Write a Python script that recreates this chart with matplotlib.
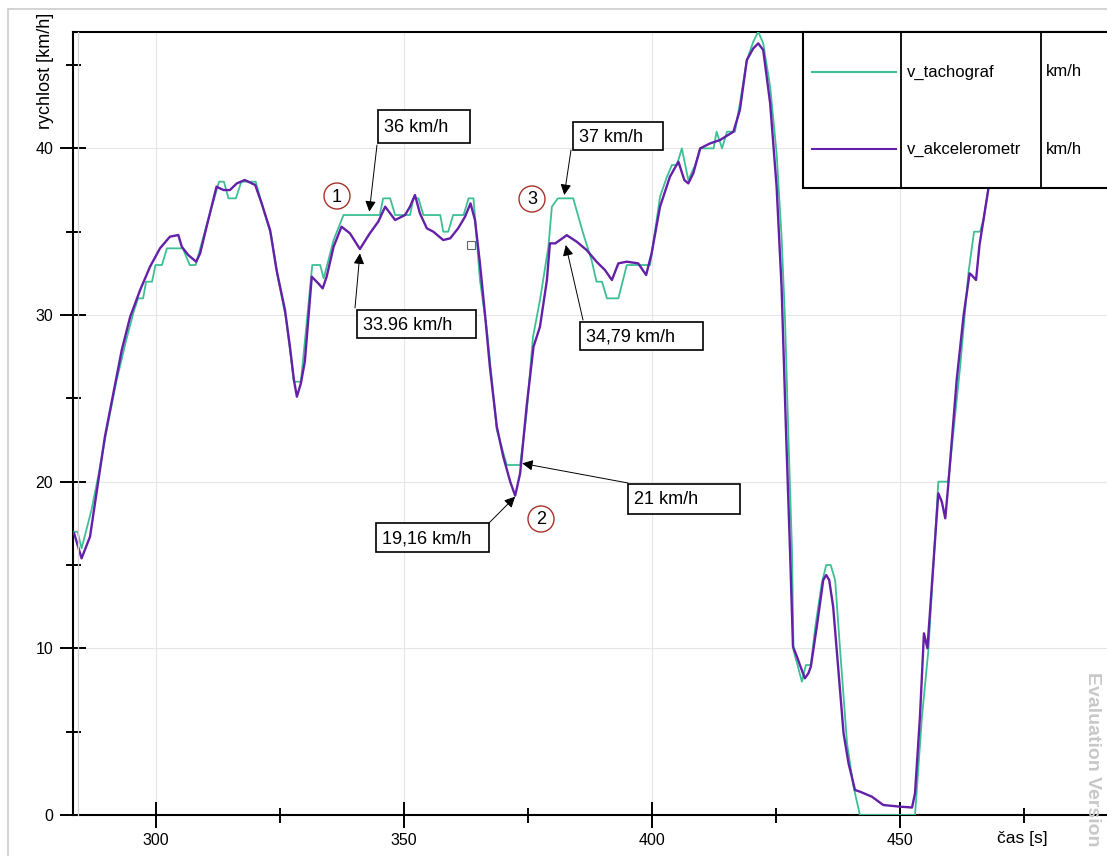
import matplotlib
matplotlib.use('Agg')
import matplotlib.pyplot as plt
from matplotlib.patches import Rectangle, Ellipse
from matplotlib.lines import Line2D

plt.rcParams['font.family'] = ['Liberation Sans', 'DejaVu Sans']

# #### DATA ####
t_tacho = [283.5, 284.2, 285.0, 287.0, 288.4, 290.0, 292.0, 294.0, 295.5, 296.4, 297.4, 298.0, 299.2,
           299.9, 301.2, 302.2, 305.4, 306.8, 308.0, 310.3, 312.7, 313.7, 314.6, 316.1, 317.2, 320.1,
           321.5, 323.2, 324.6, 326.2, 327.8, 329.2, 330.2, 331.5, 333.1, 333.8, 335.8, 337.8, 345.1,
           345.8, 347.2, 348.2, 351.2, 351.9, 352.9, 353.9, 357.3, 357.9, 358.9, 359.9, 362.0, 363.0,
           364.0, 365.3, 366.7, 367.7, 368.7, 370.7, 373.4, 374.7, 376.0, 377.4, 379.1, 379.8, 381.0,
           384.1, 386.1, 387.8, 388.8, 389.9, 390.9, 393.2, 394.9, 399.6, 401.6, 403.0, 404.0, 405.0,
           406.0, 407.3, 408.7, 409.7, 412.4, 413.0, 414.1, 415.1, 416.7, 417.7, 419.1, 420.4, 421.4,
           422.4, 423.8, 425.1, 426.1, 426.8, 427.5, 428.2, 428.5, 430.2, 431.0, 432.0, 432.9, 434.2,
           435.1, 436.0, 436.9, 437.9, 439.3, 440.6, 441.9, 453.0, 454.4, 455.7, 457.7, 459.7, 462.1,
           463.8, 464.9, 466.1, 466.8, 467.8, 469.0]
v_tacho = [17.0, 17.0, 16.0, 18.3, 20.4, 23.0, 26.0, 28.5, 30.2, 31.0, 31.0, 32.0, 32.0,
           33.0, 33.0, 34.0, 34.0, 33.0, 33.0, 35.5, 38.0, 38.0, 37.0, 37.0, 38.0, 38.0,
           36.5, 34.8, 32.2, 29.8, 26.0, 26.0, 29.0, 33.0, 33.0, 32.2, 34.5, 36.0, 36.0,
           37.0, 37.0, 36.0, 36.0, 37.0, 37.0, 36.0, 36.0, 35.0, 35.0, 36.0, 36.0, 37.0,
           37.0, 32.1, 29.1, 26.1, 23.1, 21.0, 21.0, 24.1, 28.7, 30.9, 34.1, 36.5, 37.0,
           37.0, 34.9, 33.3, 32.0, 32.0, 31.0, 31.0, 33.0, 33.0, 37.1, 38.3, 39.0, 39.0,
           40.0, 38.1, 39.0, 40.0, 40.0, 41.0, 40.0, 41.0, 41.0, 42.7, 45.3, 46.4, 47.0,
           46.3, 43.7, 39.7, 34.7, 29.7, 22.5, 15.9, 9.9, 8.0, 9.0, 9.0, 11.3, 13.9,
           15.0, 15.0, 14.1, 9.9, 4.3, 1.7, 0.0, 0.0, 5.9, 9.9, 20.0, 20.0, 26.9,
           32.6, 35.0, 35.0, 35.7, 37.6, 40.5]

t_akc = [283.5, 285.0, 286.7, 288.4, 289.7, 291.4, 293.1, 294.8, 296.8, 298.8, 300.8, 302.8, 304.5,
         305.2, 306.5, 308.1, 308.9, 310.2, 312.2, 313.6, 314.9, 316.3, 317.9, 320.0, 321.3, 323.0,
         324.3, 326.0, 327.0, 327.8, 328.4, 329.2, 330.0, 331.4, 332.7, 333.6, 334.4, 335.8, 337.4,
         339.1, 341.1, 343.1, 344.8, 346.2, 348.2, 350.2, 351.2, 352.2, 353.2, 354.6, 355.9, 357.9,
         359.3, 360.9, 362.3, 363.4, 364.3, 365.3, 366.3, 367.3, 368.7, 370.0, 371.4, 372.4, 373.4,
         374.7, 376.1, 377.4, 378.8, 379.4, 380.5, 382.8, 384.8, 386.8, 388.8, 390.5, 391.9, 393.2,
         394.9, 397.2, 398.8, 399.9, 401.6, 403.6, 405.3, 406.5, 407.3, 408.3, 409.7, 411.7, 413.7,
         416.4, 417.7, 419.1, 420.4, 421.4, 422.4, 423.8, 425.1, 426.1, 427.0, 427.8, 428.4, 429.2,
         429.8, 430.8, 431.5, 432.0, 433.2, 434.5, 435.1, 435.7, 436.5, 437.5, 438.6, 439.6, 440.9,
         441.9, 444.3, 446.6, 450.0, 452.4, 453.0, 454.0, 454.8, 455.5, 456.7, 457.7, 458.4, 459.1,
         459.7, 461.4, 462.8, 464.0, 464.4, 465.3, 466.0, 467.1, 467.8, 469.0]
v_akc = [16.9, 15.4, 16.7, 20.1, 22.7, 25.3, 27.9, 29.9, 31.5, 32.9, 34.0, 34.7, 34.8,
         34.1, 33.6, 33.2, 33.7, 35.3, 37.7, 37.5, 37.5, 37.9, 38.1, 37.8, 36.7, 35.1,
         32.7, 30.3, 28.1, 26.1, 25.1, 25.9, 27.2, 32.3, 31.9, 31.6, 32.3, 34.1, 35.3,
         34.9, 33.96, 34.9, 35.6, 36.5, 35.7, 36.0, 36.5, 37.2, 36.1, 35.2, 35.0, 34.5,
         34.6, 35.2, 35.9, 36.7, 35.7, 33.1, 30.1, 26.9, 23.3, 21.5, 20.0, 19.16, 20.5,
         24.5, 28.1, 29.3, 32.1, 34.3, 34.3, 34.79, 34.4, 33.9, 33.2, 32.7, 32.1, 33.1,
         33.2, 33.1, 32.4, 33.7, 36.5, 38.3, 39.2, 38.1, 37.9, 38.5, 40.0, 40.3, 40.5,
         41.0, 42.3, 45.3, 46.0, 46.3, 45.9, 42.7, 37.7, 31.7, 23.0, 15.9, 10.1, 9.5,
         9.0, 8.2, 8.5, 8.9, 11.3, 14.1, 14.4, 14.1, 12.5, 8.9, 4.9, 3.1, 1.5,
         1.4, 1.1, 0.6, 0.5, 0.45, 1.3, 5.9, 10.9, 10.0, 15.1, 19.3, 18.8, 17.8,
         19.8, 26.1, 30.0, 32.5, 32.4, 32.1, 34.2, 36.3, 37.6, 40.5]

series_names = ['v_tachograf', 'v_akcelerometr']
series_unit = 'km/h'

# annotated values: label, (time, speed) the arrow points at
ann_labels = ['36 km/h', '33.96 km/h', '37 km/h', '34,79 km/h', '21 km/h', '19,16 km/h']
ann_points = [(343.0, 36.2), (341.1, 33.7), (382.3, 37.2), (382.6, 34.2), (373.8, 21.1), (372.4, 19.1)]
circle_labels = ['1', '3', '2']

x_major = [300, 350, 400, 450]
x_minor = [325, 375, 425, 475]
y_major = [0, 10, 20, 30, 40]
y_minor = [5, 15, 25, 35, 45]

# #### LAYOUT ####
W, H = 1107, 856
GREEN = '#3dbf96'
PURPLE = '#6420a8'


def fpos(x, y):
    # pixel position in the picture -> figure fraction
    return (x / W, 1 - y / H)


fig = plt.figure(figsize=(W / 100, H / 100), dpi=100)
ax = fig.add_axes([73 / W, 1 - 815 / H, (W - 73) / W, (815 - 31.7) / H])

ax.plot(t_tacho, v_tacho, color=GREEN, lw=1.3, zorder=3)
ax.plot(t_akc, v_akc, color=PURPLE, lw=1.7, zorder=4)
ax.plot([363.5], [34.2], marker='s', ms=6, mfc='white', mec='#666666', mew=0.8, zorder=5)

ax.set_xlim(283.27, 491.7)
ax.set_ylim(0, 47.0)
ax.set_xticks(x_major)
ax.set_xticks(x_minor, minor=True)
ax.set_yticks(y_major)
ax.set_yticks(y_minor, minor=True)
ax.tick_params(which='major', direction='inout', length=18.7, width=1.4, labelsize=11.5)
ax.tick_params(which='minor', direction='inout', length=10.8, width=1.4)
ax.tick_params(axis='x', which='major', pad=3.6)
ax.tick_params(axis='y', which='major', pad=5)
ax.grid(which='major', color='#e6e6e6', lw=0.8, zorder=0)
ax.set_axisbelow(True)
for side in ['left', 'bottom', 'top']:
    ax.spines[side].set_linewidth(1.5)
ax.spines['right'].set_visible(False)

# axis titles
fig.text(*fpos(45, 13), 'rychlost [km/h]', rotation=90, ha='center', va='top', fontsize=13)
fig.text(*fpos(997, 838), 'čas [s]', ha='left', va='center', fontsize=12.5)

# light frame lines
fig.add_artist(Line2D([8 / W, 8 / W], [0, 1 - 9 / H], color='#cccccc', lw=1.2))
fig.add_artist(Line2D([8 / W, 1], [1 - 9 / H, 1 - 9 / H], color='#cccccc', lw=1.2))
fig.add_artist(Line2D([78 / W, 78 / W], [1 - 815 / H, 1 - 32 / H], color='#d4d4d4', lw=0.9))

# legend table
x0, y0 = fpos(803, 188)
fig.add_artist(Rectangle((x0, y0), (1112 - 803) / W, (188 - 32) / H, transform=fig.transFigure,
                         fc='white', ec='black', lw=1.5, zorder=6))
for xd in [901, 1041]:
    fig.add_artist(Line2D([xd / W, xd / W], [1 - 188 / H, 1 - 32 / H], color='black', lw=1.3, zorder=7))
for name, col, yl in zip(series_names, [GREEN, PURPLE], [72, 149]):
    fig.add_artist(Line2D([812 / W, 896 / W], [1 - yl / H, 1 - yl / H], color=col, lw=1.5, zorder=7))
    fig.text(*fpos(907, yl), name, ha='left', va='center', fontsize=12, zorder=7)
    fig.text(*fpos(1046, yl), series_unit, ha='left', va='center', fontsize=12, zorder=7)

# annotation boxes: (left, top, right, bottom) in pixels, arrow tail in pixels
boxes = [(378, 110, 470, 143), (357, 310, 476, 338), (573, 122, 663, 150),
         (580, 322, 703, 350), (628, 484, 740, 514), (376, 523, 489, 552)]
tails = [(377, 145), (355, 308), (571, 150), (583, 320), (628, 483), (489, 523)]
for label, pt, box, tail in zip(ann_labels, ann_points, boxes, tails):
    l, t, r, b = box
    fig.add_artist(Rectangle(fpos(l, b), (r - l) / W, (b - t) / H, transform=fig.transFigure,
                             fc='white', ec='black', lw=1.2, zorder=6))
    fig.text(*fpos(l + 6, (t + b) / 2 + 1), label, ha='left', va='center', fontsize=13, zorder=7)
    ax.annotate('', xy=pt, xycoords='data', xytext=fpos(*tail), textcoords='figure fraction',
                arrowprops=dict(arrowstyle='-|>', color='black', lw=0.7, mutation_scale=16,
                                shrinkA=0, shrinkB=0), zorder=6)

# numbered circles
for label, (cx, cy) in zip(circle_labels, [(337, 196), (532, 199), (541, 519)]):
    fig.add_artist(Ellipse(fpos(cx, cy), 26 / W, 26 / H, transform=fig.transFigure,
                           fc='none', ec='#a8322a', lw=1.0, zorder=6))
    fig.text(*fpos(cx, cy + 1), label, ha='center', va='center', fontsize=13, zorder=7)

# watermark, kept fully inside the picture
fig.text(*fpos(1093, 672), 'Evaluation Version', rotation=-90, ha='center', va='top',
         color='#c8c8c8', fontsize=14, fontweight='bold')

plt.savefig('out.png', dpi=100)
plt.close(fig)
